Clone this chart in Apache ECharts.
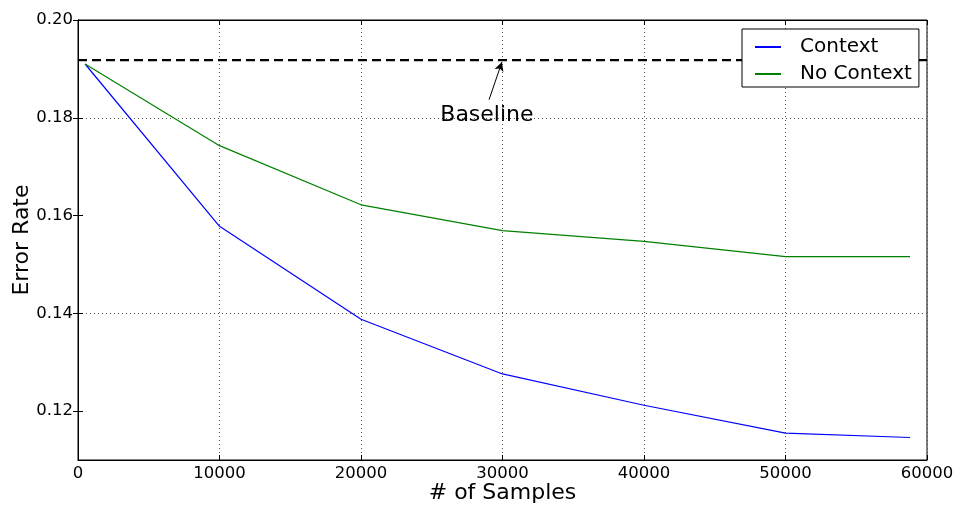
<!DOCTYPE html>
<html>
<head>
<meta charset="utf-8">
<script src="https://cdn.jsdelivr.net/npm/echarts@6/dist/echarts.min.js"></script>
<style>html,body{margin:0;padding:0;background:#fff;}#c{width:961px;height:506px;}</style>
</head>
<body>
<div id="c"></div>
<script>
const samples = [500, 10000, 20000, 30000, 40000, 50000, 58800];
const contextErr = [0.1910, 0.1578, 0.1388, 0.1276, 0.1212, 0.1155, 0.1146];
const noContextErr = [0.1910, 0.1743, 0.1622, 0.1569, 0.1547, 0.1516, 0.1516];
const baselineErr = 0.1918;
const yTicks = [0.12, 0.14, 0.16, 0.18, 0.20];
const xTicks = [0, 10000, 20000, 30000, 40000, 50000, 60000];
const annotation = { text: 'Baseline', textAt: [28900, 0.1805], tail: [29050, 0.1837], head: [29960, 0.1914] };

const FONT = 'DejaVu Sans';
const chart = echarts.init(document.getElementById('c'), null, { renderer: 'canvas' });

const zip = (xs, ys) => xs.map((x, i) => [x, ys[i]]);

const yBase = {
  type: 'value', min: 0.11, max: 0.20, interval: 0.01,
  axisLine: { show: true, lineStyle: { color: '#000', width: 1 } },
  axisTick: { show: true, inside: true, length: 5, customValues: yTicks, lineStyle: { color: '#000' } }
};
const xBase = {
  type: 'value', min: 0, max: 60000, interval: 10000,
  axisLine: { show: true, onZero: false, lineStyle: { color: '#000', width: 1 } },
  axisTick: { show: true, inside: true, length: 5, lineStyle: { color: '#000' } }
};

chart.setOption({
  animation: false,
  backgroundColor: '#fff',
  textStyle: { fontFamily: FONT },
  grid: { left: 78, right: 34, top: 20, bottom: 46, show: true, borderColor: '#000', borderWidth: 1,
    containLabel: false, outerBoundsMode: 'none' },
  legend: {
    data: ['Context', 'No Context'],
    orient: 'vertical',
    left: 742, top: 29,
    padding: [8, 7, 3, 12],
    itemWidth: 26, itemHeight: 14, itemGap: 7,
    borderColor: '#000', borderWidth: 1, borderRadius: 0,
    backgroundColor: '#fff',
    itemStyle: { color: 'rgba(0,0,0,0)', borderColor: 'rgba(0,0,0,0)', borderWidth: 0 },
    textStyle: { fontFamily: FONT, fontSize: 20, color: '#000', lineHeight: 20, padding: [0, 0, 0, 14] }
  },
  xAxis: [
    Object.assign({}, xBase, {
      position: 'bottom',
      name: '# of Samples', nameLocation: 'middle', nameGap: 22, nameMoveOverlap: false,
      nameTextStyle: { fontFamily: FONT, fontSize: 22, color: '#000' },
      axisLabel: { show: true, margin: 5, fontFamily: FONT, fontSize: 16.5, color: '#000', formatter: v => String(v) },
      splitLine: { show: true, lineStyle: { color: '#555', type: [1, 3], width: 1 } }
    }),
    Object.assign({}, xBase, {
      position: 'top', axisLabel: { show: false }, splitLine: { show: false }
    })
  ],
  yAxis: [
    Object.assign({}, yBase, {
      position: 'left',
      name: 'Error Rate', nameLocation: 'middle', nameGap: 45, nameMoveOverlap: false,
      nameTextStyle: { fontFamily: FONT, fontSize: 22, color: '#000' },
      axisLabel: { show: true, margin: 5, fontFamily: FONT, fontSize: 16.5, color: '#000', customValues: yTicks,
        formatter: v => v.toFixed(2) },
      splitLine: { show: true, lineStyle: { color: ['rgba(0,0,0,0)', '#555'], type: [1, 3], width: 1 } }
    }),
    Object.assign({}, yBase, {
      position: 'right', axisLabel: { show: false }, splitLine: { show: false }
    })
  ],
  series: [
    {
      name: 'Context', type: 'line', data: zip(samples, contextErr),
      symbol: 'none', lineStyle: { color: '#0000ff', width: 1.2 }, itemStyle: { color: '#0000ff' }, z: 3
    },
    {
      name: 'No Context', type: 'line', data: zip(samples, noContextErr),
      symbol: 'none', lineStyle: { color: '#008000', width: 1.2 }, itemStyle: { color: '#008000' }, z: 3
    },
    {
      name: 'Baseline', type: 'line', data: [[xTicks[0], baselineErr], [xTicks[xTicks.length - 1], baselineErr]],
      symbol: 'none', lineStyle: { color: '#000', width: 2.2, type: [9, 5] }, z: 2,
      markLine: {
        silent: true, symbol: ['none', 'arrow'], symbolSize: [7, 9],
        lineStyle: { color: '#000', width: 1, type: 'solid' },
        label: { show: false },
        data: [[{ coord: annotation.tail }, { coord: annotation.head }]]
      },
      markPoint: {
        silent: true, symbol: 'circle', symbolSize: 0,
        label: { show: true, position: 'inside', formatter: annotation.text, fontFamily: FONT, fontSize: 22, color: '#000' },
        data: [{ coord: annotation.textAt }]
      }
    }
  ]
});
</script>
</body>
</html>
